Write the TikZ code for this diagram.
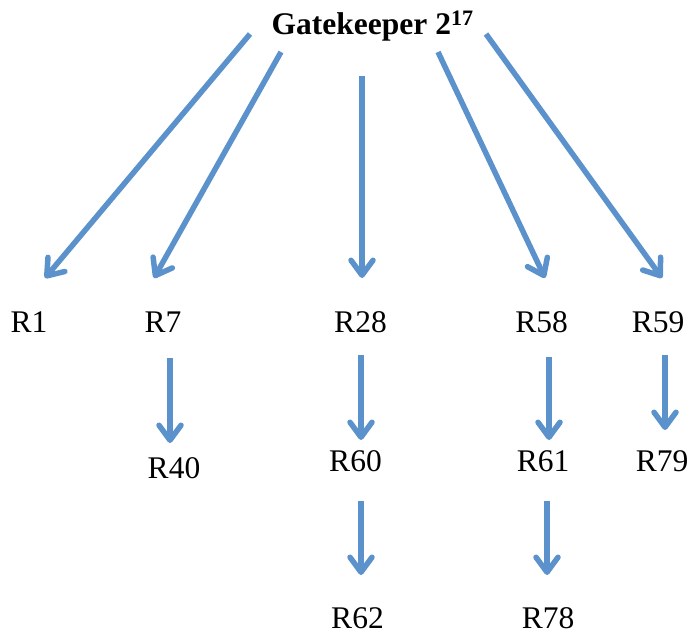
\documentclass[tikz,border=0pt]{standalone}
\usepackage{fontspec}
\setmainfont{Liberation Serif}
\usetikzlibrary{arrows.meta}
\definecolor{arrowblue}{RGB}{92,146,204}
\tikzset{
  lbl/.style={inner sep=0pt, anchor=base, font=\fontsize{31.5}{36}\selectfont},
  arr/.style={draw=arrowblue, line width=5.5pt,
    -{Straight Barb[length=15pt,width=22pt,line width=5.5pt,round]}}
}
\begin{document}
\begin{tikzpicture}[x=1pt,y=-1pt]
\useasboundingbox (0,0) rectangle (691,637);
% title
\node[inner sep=0pt, anchor=base west, font=\fontsize{31.5}{36}\selectfont\bfseries] (gk) at (271.5,34.3) {Gatekeeper 2\textsuperscript{17}};
% labels
\node[lbl] (r1) at (29,332) {R1};
\node[lbl] (r7) at (163,332) {R7};
\node[lbl] (r28) at (360.5,332) {R28};
\node[lbl] (r58) at (541.7,332) {R58};
\node[lbl] (r59) at (658,332) {R59};
\node[lbl] (r40) at (174,478.5) {R40};
\node[lbl] (r60) at (355.5,471.5) {R60};
\node[lbl] (r61) at (543,471.5) {R61};
\node[lbl] (r79) at (662,471.5) {R79};
\node[lbl] (r62) at (357.5,628) {R62};
\node[lbl] (r78) at (548,628) {R78};
% arrow end points
\coordinate (s1) at (250,34);   \coordinate (e1) at (45,278);
\coordinate (s2) at (281,52);   \coordinate (e2) at (154,278);
\coordinate (s3) at (362,76);   \coordinate (e3) at (362,278);
\coordinate (s4) at (438,52);   \coordinate (e4) at (545,278);
\coordinate (s5) at (486,34);   \coordinate (e5) at (662,278);
\coordinate (s6) at (170,358);  \coordinate (e6) at (170,443);
\coordinate (s7) at (361,355);  \coordinate (e7) at (361,440);
\coordinate (s8) at (549,357);  \coordinate (e8) at (549,440);
\coordinate (s9) at (665,355);  \coordinate (e9) at (665,430);
\coordinate (s10) at (361,501); \coordinate (e10) at (361,575);
\coordinate (s11) at (547,501); \coordinate (e11) at (547,575);
\foreach \i in {1,...,11}{\draw[arr] (s\i) -- (e\i);}
\end{tikzpicture}
\end{document}
